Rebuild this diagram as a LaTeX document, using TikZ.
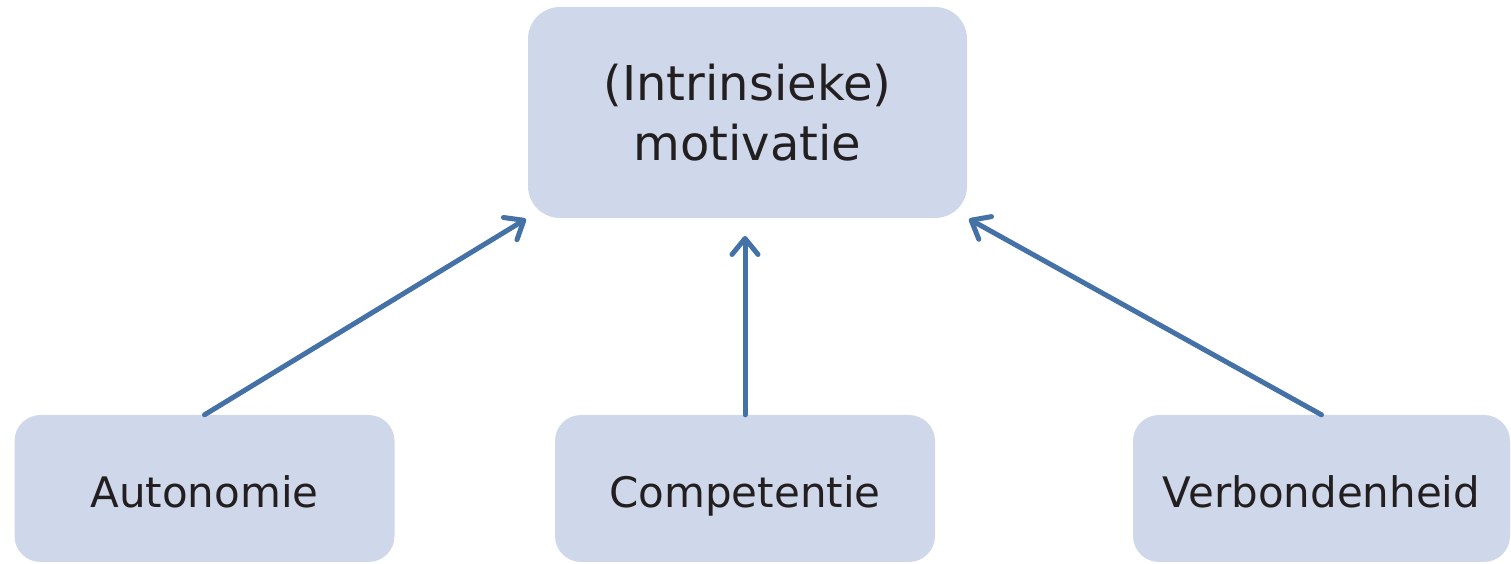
\documentclass[tikz,border=0pt]{standalone}
\usepackage{fontspec}
\setmainfont{DejaVu Sans}
\usetikzlibrary{arrows.meta}
\definecolor{boxfill}{RGB}{207,216,234}
\definecolor{arrowblue}{RGB}{68,113,166}
\definecolor{txt}{RGB}{35,31,32}
\begin{document}
\begin{tikzpicture}[x=1pt,y=1pt,
  topbox/.style={fill=boxfill, rounded corners=32pt, minimum width=439pt, minimum height=211pt, inner sep=0pt,
     text=txt, align=center, font=\fontsize{48pt}{60pt}\selectfont},
  botbox/.style={fill=boxfill, rounded corners=26pt, minimum width=380pt, minimum height=147pt, inner sep=0pt,
     text=txt, font=\fontsize{42pt}{50pt}\selectfont, text height=38pt, text depth=0pt},
  conn/.style={draw=arrowblue, line width=5pt, line cap=round, line join=round,
     -{Straight Barb[length=16pt, width=26pt, line cap=round, line join=round]}}]
\useasboundingbox (0,0) rectangle (1511,564);
\node[topbox] (mot) at (747.5,451.5) {(Intrinsieke)\\motivatie};
\node[botbox] (aut) at (204.5,75.5) {Autonomie};
\node[botbox] (com) at (745,75.5) {Competentie};
\node[botbox, minimum width=377pt] (ver) at (1321.5,75.5) {Verbondenheid};
\coordinate (tl) at (526,345);
\coordinate (tm) at (745,328);
\coordinate (tr) at (969,345);
\draw[conn] (aut.north) -- (tl);
\draw[conn] (com.north) -- (tm);
\draw[conn] (ver.north) -- (tr);
\end{tikzpicture}
\end{document}
